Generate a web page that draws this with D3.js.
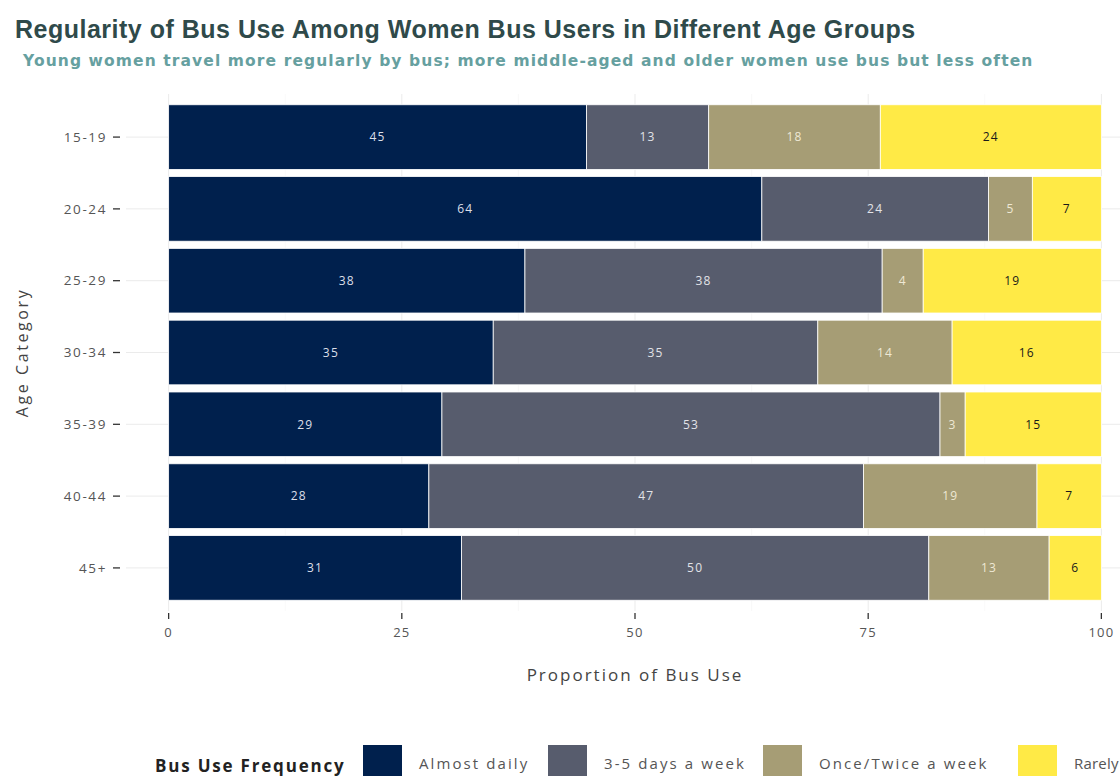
<!DOCTYPE html>
<html>
<head>
<meta charset="utf-8">
<script src="https://cdn.jsdelivr.net/npm/d3@7"></script>
<style>
  html, body { margin: 0; padding: 0; background: #fff; }
  svg { display: block; }
</style>
</head>
<body>
<svg id="chart" width="1120" height="776"></svg>
<script>
// ---- Data ----
const ageCategories = ["15-19", "20-24", "25-29", "30-34", "35-39", "40-44", "45+"];
const frequencies = ["Almost daily", "3-5 days a week", "Once/Twice a week", "Rarely"];
const almostDaily   = [44.8, 63.6, 38.2, 34.8, 29.3, 27.9, 31.4];
const threeFiveDays = [13.1, 24.3, 38.3, 34.8, 53.4, 46.6, 50.1];
const onceTwice     = [18.4, 4.7, 4.4, 14.4, 2.7, 18.6, 12.9];
const rarely        = [23.7, 7.4, 19.1, 16.0, 14.6, 6.9, 5.6];
const xTicks = [0, 25, 50, 75, 100];
const colors = ["#00204D", "#575C6D", "#A69D75", "#FFEA46"];
const labelColors = ["#dcdfe8", "#e2e3e8", "#eee8d4", "#1a1a1a"];

const seriesValues = [almostDaily, threeFiveDays, onceTwice, rarely];
const rows = ageCategories.map((age, i) => {
  const r = { age };
  frequencies.forEach((f, k) => r[f] = seriesValues[k][i]);
  return r;
});

// ---- Layout ----
const svg = d3.select("#chart");
const panel = { left: 122, right: 1148, top: 94, bottom: 611 };
const FONT = "Open Sans, sans-serif";

const x = d3.scaleLinear().domain([-5, 105]).range([panel.left, panel.right]);
// ggplot-like discrete scale: 0.6 units expansion each side; bars 0.9 wide
const y = d3.scalePoint().domain(ageCategories)
  .range([panel.top, panel.bottom]).padding(0.6);
const yCenter = a => y(a);
const barH = 0.9 * y.step();

const color = d3.scaleOrdinal().domain(frequencies).range(colors);
const textColor = d3.scaleOrdinal().domain(frequencies).range(labelColors);

// Grid
const grid = svg.append("g");
grid.selectAll("line.vm").data([12.5, 37.5, 62.5, 87.5]).join("line")
  .attr("x1", d => x(d)).attr("x2", d => x(d))
  .attr("y1", panel.top).attr("y2", panel.bottom)
  .attr("stroke", "#f5f5f5").attr("stroke-width", 0.6);
grid.selectAll("line.v").data(xTicks).join("line")
  .attr("x1", d => x(d)).attr("x2", d => x(d))
  .attr("y1", panel.top).attr("y2", panel.bottom)
  .attr("stroke", "#ebebeb").attr("stroke-width", 1);
grid.selectAll("line.h").data(ageCategories).join("line")
  .attr("x1", panel.left + 4).attr("x2", panel.right)
  .attr("y1", d => yCenter(d)).attr("y2", d => yCenter(d))
  .attr("stroke", "#ebebeb").attr("stroke-width", 1);

// Stack
const stacked = d3.stack().keys(frequencies)(rows);

const layers = svg.append("g").selectAll("g").data(stacked).join("g")
  .attr("fill", d => color(d.key));
layers.selectAll("rect").data(d => d).join("rect")
  .attr("x", d => x(d[0]))
  .attr("width", d => x(d[1]) - x(d[0]))
  .attr("y", d => yCenter(d.data.age) - barH / 2)
  .attr("height", barH)
  .attr("stroke", "#ffffff").attr("stroke-width", 0.8);

// Value labels
const labels = svg.append("g").attr("font-family", FONT).attr("font-size", 12)
  .attr("letter-spacing", 1.2);
stacked.forEach(layer => {
  labels.selectAll(null).data(layer).join("text")
    .attr("x", d => x((d[0] + d[1]) / 2))
    .attr("y", d => yCenter(d.data.age))
    .attr("dy", "0.35em")
    .attr("text-anchor", "middle")
    .attr("fill", textColor(layer.key))
    .text(d => Math.round(d[1] - d[0]));
});

// X axis ticks
const xAxisG = svg.append("g").attr("font-family", FONT);
xAxisG.selectAll("line").data(xTicks).join("line")
  .attr("x1", d => x(d)).attr("x2", d => x(d))
  .attr("y1", panel.bottom + 2).attr("y2", panel.bottom + 8)
  .attr("stroke", "#333").attr("stroke-width", 1.3);
xAxisG.selectAll("text").data(xTicks).join("text")
  .attr("x", d => x(d)).attr("y", panel.bottom + 26)
  .attr("text-anchor", "middle").attr("font-size", 13).attr("letter-spacing", 1.2)
  .attr("fill", "#555")
  .text(d => d);

// Y axis ticks
const yAxisG = svg.append("g").attr("font-family", FONT);
yAxisG.selectAll("line").data(ageCategories).join("line")
  .attr("x1", panel.left - 9).attr("x2", panel.left - 2)
  .attr("y1", d => yCenter(d)).attr("y2", d => yCenter(d))
  .attr("stroke", "#333").attr("stroke-width", 1.3);
yAxisG.selectAll("text").data(ageCategories).join("text")
  .attr("x", panel.left - 15).attr("y", d => yCenter(d)).attr("dy", "0.35em")
  .attr("text-anchor", "end").attr("font-size", 13.5).attr("letter-spacing", 1.6)
  .attr("fill", "#555")
  .text(d => d);

// Axis titles
svg.append("text").attr("x", x(50)).attr("y", 681)
  .attr("text-anchor", "middle").attr("font-family", FONT)
  .attr("font-size", 17).attr("letter-spacing", 2.0)
  .attr("fill", "#444").text("Proportion of Bus Use");
svg.append("text").attr("transform", `translate(28, ${(panel.top + panel.bottom) / 2}) rotate(-90)`)
  .attr("text-anchor", "middle").attr("font-family", FONT)
  .attr("font-size", 16).attr("letter-spacing", 2.6)
  .attr("fill", "#444").text("Age Category");

// Title / subtitle
svg.append("text").attr("x", 15).attr("y", 38)
  .attr("font-family", "Liberation Sans, Arial, sans-serif").attr("font-weight", "bold")
  .attr("font-size", 25).attr("letter-spacing", 0.5).attr("fill", "#2f4a4a")
  .text("Regularity of Bus Use Among Women Bus Users in Different Age Groups");
svg.append("text").attr("x", 23).attr("y", 66)
  .attr("font-family", "DejaVu Sans, sans-serif").attr("font-weight", "bold")
  .attr("font-size", 15.5).attr("letter-spacing", 1.1).attr("fill", "#66a0a0")
  .text("Young women travel more regularly by bus; more middle-aged and older women use bus but less often");

// Legend
const legend = svg.append("g").attr("font-family", FONT);
legend.append("text").attr("x", 155).attr("y", 772)
  .attr("font-weight", "bold").attr("font-size", 17).attr("letter-spacing", 1.8)
  .attr("fill", "#222")
  .text("Bus Use Frequency");
const keyX = [363, 548, 763, 1018];
const legendSpacing = [2.1, 2.1, 2.1, 0.2];
frequencies.forEach((f, i) => {
  legend.append("rect").attr("x", keyX[i]).attr("y", 745).attr("width", 39).attr("height", 34)
    .attr("fill", color(f));
  legend.append("text").attr("x", keyX[i] + 56).attr("y", 769)
    .attr("font-size", 15).attr("letter-spacing", legendSpacing[i])
    .attr("fill", "#555").text(f);
});
</script>
</body>
</html>
